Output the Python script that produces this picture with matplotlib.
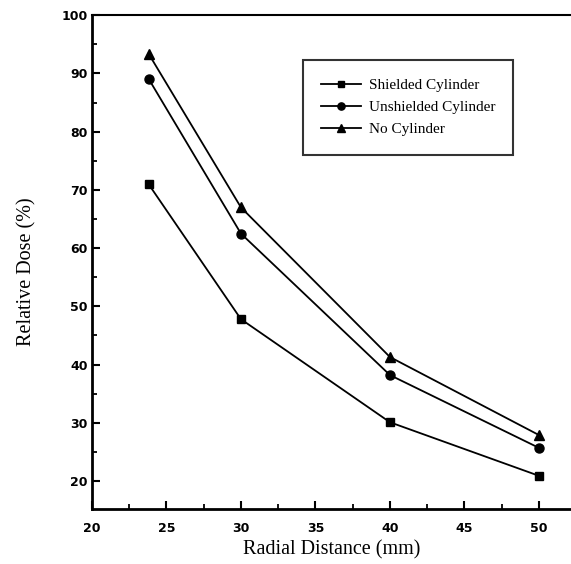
import matplotlib.pyplot as plt
from matplotlib.ticker import MultipleLocator

plt.rcParams['font.family'] = ['Liberation Serif', 'DejaVu Serif']

# data
radial = [23.8, 30, 40, 50]
shielded = [71.0, 47.8, 30.1, 20.9]
unshielded = [89.1, 62.5, 38.2, 25.7]
no_cyl = [93.4, 67.0, 41.3, 27.9]

fig = plt.figure(figsize=(5.71, 5.64), dpi=100)
ax = fig.add_axes([0.161, 0.0975, 0.839, 0.8755])

ax.plot(radial, shielded, color='black', lw=1.3, marker='s', ms=6, label='Shielded Cylinder')
ax.plot(radial, unshielded, color='black', lw=1.3, marker='o', ms=6.5, label='Unshielded Cylinder')
ax.plot(radial, no_cyl, color='black', lw=1.3, marker='^', ms=7, label='No Cylinder')

ax.set_xlim(20, 52.15)
ax.set_ylim(15.2, 100)
ax.xaxis.set_major_locator(MultipleLocator(5))
ax.xaxis.set_minor_locator(MultipleLocator(2.5))
ax.yaxis.set_major_locator(MultipleLocator(10))
ax.yaxis.set_minor_locator(MultipleLocator(5))
ax.tick_params(which='major', direction='in', length=6, width=1.5, labelsize=9)
ax.tick_params(which='minor', direction='in', length=3.5, width=1.3)
for lab in ax.get_xticklabels() + ax.get_yticklabels():
    lab.set_fontweight('bold')
    lab.set_family(['DejaVu Sans'])
ax.tick_params(axis='x', pad=9)
ax.tick_params(axis='y', pad=3)

ax.spines['left'].set_linewidth(2)
ax.spines['bottom'].set_linewidth(2)
ax.spines['top'].set_linewidth(1.5)
ax.spines['right'].set_visible(False)

ax.set_xlabel('Radial Distance (mm)', fontsize=14.5)
ax.set_ylabel('Relative Dose (%)', fontsize=14.5)
ax.xaxis.set_label_coords(0.5, -0.063)
ax.yaxis.set_label_coords(-0.115, 0.48)

leg = ax.legend(loc='upper left', bbox_to_anchor=(0.4405, 0.909), borderaxespad=0,
                frameon=True, fancybox=False, edgecolor='black', fontsize=11,
                handlelength=2.6, borderpad=1.2, labelspacing=0.55, handletextpad=0.5,
                markerscale=0.8)
leg.get_frame().set_linewidth(1.5)

fig.savefig('out.png', dpi=100)
